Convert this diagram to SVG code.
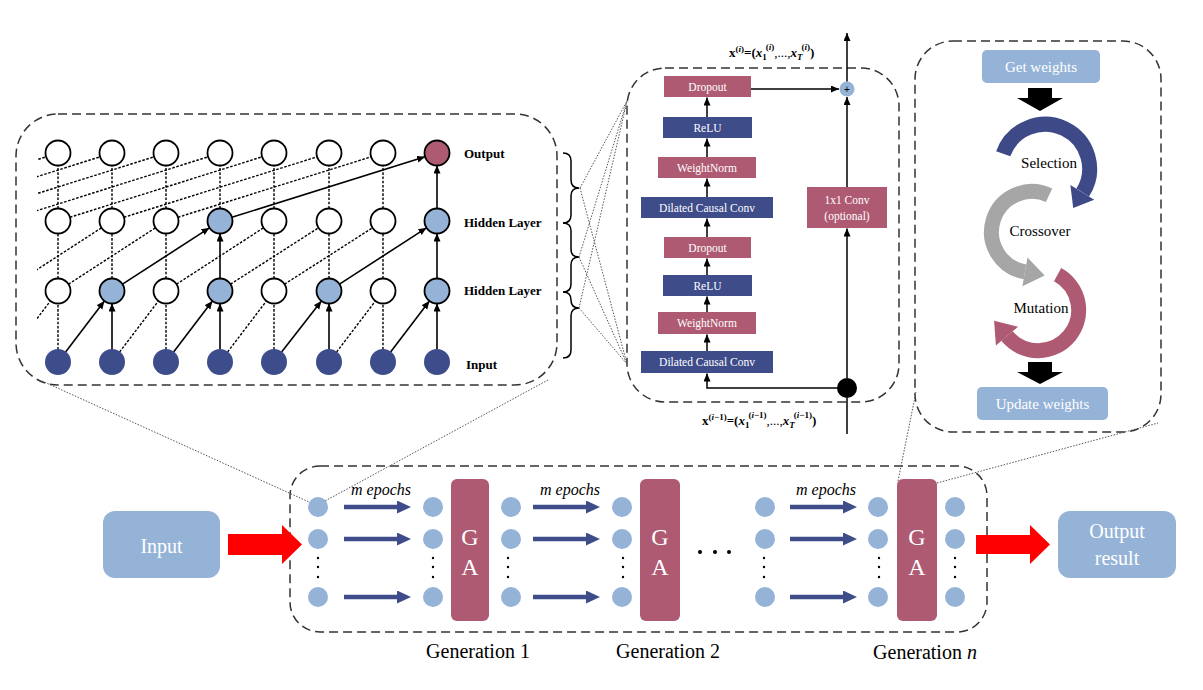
<svg xmlns="http://www.w3.org/2000/svg" width="1203" height="690" viewBox="0 0 1203 690">
<style>
.dt{stroke:#000;stroke-width:1.4;stroke-dasharray:2.6 1.6;fill:none}
.sl{stroke:#000;stroke-width:1.6;fill:none;marker-end:url(#ah)}
.fine{stroke:#555;stroke-width:1;stroke-dasharray:1.5 1.5;fill:none}
.frame{fill:none;stroke:#333;stroke-width:1.5;stroke-dasharray:9 5}
.wn{fill:#fff;stroke:#000;stroke-width:1.8}
.lb{fill:#95b3d7;stroke:#000;stroke-width:1.8}
.inn{fill:#3d4c8a}
.on{fill:#ae5a72;stroke:#000;stroke-width:1.8}
.pk{fill:#ae5a72}
.bl{fill:#3e4c8a}
.lbox{fill:#95b3d7}
.dotc{fill:#95b3d7}
.nl{font-family:"Liberation Serif",serif;font-weight:bold;font-size:13px;fill:#000}
.bt{font-family:"Liberation Serif",serif;font-size:11.5px;fill:#fff;text-anchor:middle}
.wt{font-family:"Liberation Serif",serif;fill:#fff;text-anchor:middle}
.kt{font-family:"Liberation Serif",serif;fill:#000;text-anchor:middle}
.fx{font-family:"Liberation Serif",serif;font-size:13px;font-weight:bold;fill:#000}
.ep{font-family:"Liberation Serif",serif;font-style:italic;font-size:16px;fill:#000;text-anchor:middle}
.ba{stroke:#3e4c8a;stroke-width:4.5;fill:none;marker-end:url(#bah)}
.tl{stroke:#000;stroke-width:1.5;fill:none;marker-end:url(#ah)}
</style>
<defs>
<marker id="ah" markerUnits="userSpaceOnUse" markerWidth="9" markerHeight="8" refX="8" refY="3.5" orient="auto"><path d="M0,0 L8,3.5 L0,7 z" fill="#000"/></marker>
<marker id="bah" markerUnits="userSpaceOnUse" markerWidth="16" markerHeight="14" refX="1" refY="6.5" orient="auto"><path d="M0,0 L14,6.5 L0,13 z" fill="#3e4c8a"/></marker>
<clipPath id="nclip"><rect x="37" y="110" width="520" height="280"/></clipPath>
</defs>

<!-- TCN network panel -->
<g id="network">
<rect class="frame" x="16" y="114" width="541" height="271" rx="42"/>
<g clip-path="url(#nclip)">
<path class="dt" d="M58,349.5V303.5 M166,349.5V303.5 M274,349.5V303.5 M383,349.5V303.5"/>
<path class="sl" d="M112,349.5V303.5"/><path class="sl" d="M220,349.5V303.5"/><path class="sl" d="M329,349.5V303.5"/><path class="sl" d="M437,349.5V303.5"/>
<path class="dt" d="M4,362L50.4,301 M119.6,352L158.4,301 M227.6,352L266.4,301 M336.6,352L375.4,301"/>
<path class="sl" d="M65.6,352L104.4,301"/><path class="sl" d="M173.6,352L212.4,301"/><path class="sl" d="M281.6,352L321.4,301"/><path class="sl" d="M390.6,352L429.4,301"/>
<path class="dt" d="M58,278.5V233.5 M112,278.5V233.5 M166,278.5V233.5 M274,278.5V233.5 M329,278.5V233.5 M383,278.5V233.5"/>
<path class="sl" d="M220,278.5V233.5"/><path class="sl" d="M437,278.5V233.5"/>
<path class="dt" d="M4,291L101.5,227.8 M68.5,284.2L155.5,227.8 M176.5,284.2L263.5,227.8 M230.5,284.2L318.5,227.8 M284.5,284.2L372.5,227.8"/>
<path class="sl" d="M122.5,284.2L209.5,227.8"/><path class="sl" d="M339.5,284.2L426.5,227.8"/>
<path class="dt" d="M58,208.5V165.5 M112,208.5V165.5 M166,208.5V165.5 M220,208.5V165.5 M274,208.5V165.5 M329,208.5V165.5 M383,208.5V165.5"/>
<path class="sl" d="M437,208.5V165.5"/>
<path class="dt" d="M-158,221L46.1,156.8 M-104,221L100.1,156.8 M-50,221L154.1,156.8 M4,221L208.1,156.8 M69.9,217.3L262.1,156.8 M123.9,217.3L317.1,156.8 M177.9,217.3L371.1,156.8"/>
<path class="sl" d="M231.9,217.3L425.1,156.8"/>
</g>
<g>
<circle class="wn" cx="58" cy="153" r="12.5"/><circle class="wn" cx="112" cy="153" r="12.5"/><circle class="wn" cx="166" cy="153" r="12.5"/><circle class="wn" cx="220" cy="153" r="12.5"/><circle class="wn" cx="274" cy="153" r="12.5"/><circle class="wn" cx="329" cy="153" r="12.5"/><circle class="wn" cx="383" cy="153" r="12.5"/><circle class="on" cx="437" cy="153" r="12.5"/>
<circle class="wn" cx="58" cy="221" r="12.5"/><circle class="wn" cx="112" cy="221" r="12.5"/><circle class="wn" cx="166" cy="221" r="12.5"/><circle class="lb" cx="220" cy="221" r="12.5"/><circle class="wn" cx="274" cy="221" r="12.5"/><circle class="wn" cx="329" cy="221" r="12.5"/><circle class="wn" cx="383" cy="221" r="12.5"/><circle class="lb" cx="437" cy="221" r="12.5"/>
<circle class="wn" cx="58" cy="291" r="12.5"/><circle class="lb" cx="112" cy="291" r="12.5"/><circle class="wn" cx="166" cy="291" r="12.5"/><circle class="lb" cx="220" cy="291" r="12.5"/><circle class="wn" cx="274" cy="291" r="12.5"/><circle class="lb" cx="329" cy="291" r="12.5"/><circle class="wn" cx="383" cy="291" r="12.5"/><circle class="lb" cx="437" cy="291" r="12.5"/>
<circle class="inn" cx="58" cy="362" r="13"/><circle class="inn" cx="112" cy="362" r="13"/><circle class="inn" cx="166" cy="362" r="13"/><circle class="inn" cx="220" cy="362" r="13"/><circle class="inn" cx="274" cy="362" r="13"/><circle class="inn" cx="329" cy="362" r="13"/><circle class="inn" cx="383" cy="362" r="13"/><circle class="inn" cx="437" cy="362" r="13"/>
</g>
<text class="nl" x="464" y="158">Output</text>
<text class="nl" x="464" y="227">Hidden Layer</text>
<text class="nl" x="464" y="295">Hidden Layer</text>
<text class="nl" x="466" y="369">Input</text>
</g>

<!-- braces -->
<g id="braces" fill="none" stroke="#000" stroke-width="1.5">
<path d="M563,153 Q571,153 571,161 L571,180 Q571,188 579,188 Q571,188 571,196 L571,215 Q571,223 563,223"/>
<path d="M563,223 Q571,223 571,231 L571,249 Q571,257 579,257 Q571,257 571,265 L571,284 Q571,292 563,292"/>
<path d="M563,292 Q571,292 571,300 L571,300 Q571,308 579,308 Q571,308 571,316 L571,350 Q571,358 563,358"/>
</g>

<!-- TCN residual block -->
<g id="tcn-block">
<rect class="frame" x="627" y="68" width="272" height="334" rx="38"/>
<g id="dropout1"><rect class="pk" x="664" y="76" width="87" height="21"/><text class="bt" x="707.5" y="90.5">Dropout</text></g>
<g id="relu1"><rect class="bl" x="663" y="117" width="89" height="21"/><text class="bt" x="707.5" y="131.5">ReLU</text></g>
<g id="wn1"><rect class="pk" x="658" y="157" width="98" height="21"/><text class="bt" x="707" y="171.5">WeightNorm</text></g>
<g id="dcc1"><rect class="bl" x="641" y="197" width="132" height="21"/><text class="bt" x="707" y="211.5">Dilated Causal Conv</text></g>
<g id="dropout2"><rect class="pk" x="664" y="237" width="87" height="21"/><text class="bt" x="707.5" y="251.5">Dropout</text></g>
<g id="relu2"><rect class="bl" x="663" y="275" width="89" height="21"/><text class="bt" x="707.5" y="289.5">ReLU</text></g>
<g id="wn2"><rect class="pk" x="658" y="312" width="98" height="22"/><text class="bt" x="707" y="327">WeightNorm</text></g>
<g id="dcc2"><rect class="bl" x="641" y="351" width="132" height="22"/><text class="bt" x="707" y="366">Dilated Causal Conv</text></g>
<g id="conv1x1"><rect class="pk" x="807" y="187" width="80" height="41"/><text class="bt" x="847" y="204">1x1 Conv</text><text class="bt" x="847" y="220">(optional)</text></g>
<g id="plus"><circle cx="847" cy="89" r="7.5" fill="#95b3d7"/><text x="847" y="92.5" font-family="Liberation Sans,sans-serif" font-size="10" text-anchor="middle" fill="#000">+</text></g>
<g id="split"><circle cx="847" cy="388" r="10" fill="#000"/></g>
<text class="fx" x="729" y="57">x<tspan font-size="9" dy="-5">(<tspan font-style="italic">i</tspan>)</tspan><tspan dy="5">=(</tspan><tspan font-style="italic">x</tspan><tspan font-size="9" dy="3">1</tspan><tspan font-size="9" dx="-1" dy="-10">(<tspan font-style="italic">i</tspan>)</tspan><tspan dy="7" font-weight="normal">,...,</tspan><tspan font-style="italic">x</tspan><tspan font-size="9" dy="3" font-style="italic">T</tspan><tspan font-size="9" dx="-1" dy="-10">(<tspan font-style="italic">i</tspan>)</tspan><tspan dy="7">)</tspan></text>
<text class="fx" x="702" y="425">x<tspan font-size="9" dy="-5">(<tspan font-style="italic">i</tspan>−1)</tspan><tspan dy="5">=(</tspan><tspan font-style="italic">x</tspan><tspan font-size="9" dy="3">1</tspan><tspan font-size="9" dx="-1" dy="-10">(<tspan font-style="italic">i</tspan>−1)</tspan><tspan dy="7" font-weight="normal">,...,</tspan><tspan font-style="italic">x</tspan><tspan font-size="9" dy="3" font-style="italic">T</tspan><tspan font-size="9" dx="-1" dy="-10">(<tspan font-style="italic">i</tspan>−1)</tspan><tspan dy="7">)</tspan></text>
</g>

<!-- GA panel -->
<g id="ga-panel">
<rect class="frame" x="915" y="41" width="246" height="391" rx="38"/>
<g id="get-weights"><rect class="lbox" x="982" y="50" width="118" height="33" rx="5"/><text class="wt" x="1041" y="72" font-size="15">Get weights</text></g>
<polygon points="1028,88 1052,88 1052,98 1063,98 1040,111 1017,98 1028,98" fill="#000"/>
<g id="selection">
<path d="M1003.2,153.8 A44.5,44.5 0 1 1 1082.7,192.6" fill="none" stroke="#3e4a87" stroke-width="15"/>
<polygon points="1070.4,184.9 1094.2,199.7 1073.2,207.9" fill="#3e4a87"/>
<text class="kt" x="1049" y="168" font-size="15">Selection</text>
</g>
<g id="crossover">
<path d="M1049.1,195.3 A40.5,40.5 0 1 0 1025,271.9" fill="none" stroke="#a6a6a6" stroke-width="15"/>
<polygon points="1027.5,257.6 1022.4,286.2 1044.7,275.4" fill="#a6a6a6"/>
<text class="kt" x="1040" y="236" font-size="15">Crossover</text>
</g>
<g id="mutation">
<path d="M1057.6,274.6 A40.5,40.5 0 1 1 1007,336" fill="none" stroke="#ae5a72" stroke-width="15"/>
<polygon points="1018.1,326.7 995.9,345.4 994.1,320.7" fill="#ae5a72"/>
<text class="kt" x="1041" y="313" font-size="15">Mutation</text>
</g>
<polygon points="1028,362 1052,362 1052,372 1063,372 1040,384 1017,372 1028,372" fill="#000"/>
<g id="update-weights"><rect class="lbox" x="977" y="387" width="131" height="33" rx="5"/><text class="wt" x="1042.5" y="409" font-size="15">Update weights</text></g>
</g>

<!-- bottom pipeline -->
<g id="input"><rect class="lbox" x="103" y="511" width="117" height="67" rx="12"/><text class="wt" x="161.5" y="553" font-size="20">Input</text></g>
<g id="output"><rect class="lbox" x="1058" y="511" width="118" height="67" rx="12"/><text class="wt" x="1117" y="538" font-size="20">Output</text><text class="wt" x="1117" y="565" font-size="20">result</text></g>
<g id="generations">
<rect class="frame" x="290" y="466" width="697" height="166" rx="30"/>
<g id="ga1"><rect class="pk" x="451" y="479" width="38" height="142" rx="6"/><text class="wt" x="470" y="545" font-size="24">G</text><text class="wt" x="470" y="575" font-size="24">A</text></g>
<g id="ga2"><rect class="pk" x="640" y="479" width="40" height="142" rx="6"/><text class="wt" x="660" y="545" font-size="24">G</text><text class="wt" x="660" y="575" font-size="24">A</text></g>
<g id="ga3"><rect class="pk" x="897" y="479" width="40" height="142" rx="6"/><text class="wt" x="917" y="545" font-size="24">G</text><text class="wt" x="917" y="575" font-size="24">A</text></g>
<g class="dotc">
<circle cx="318" cy="507" r="10"/><circle cx="318" cy="539" r="10"/><circle cx="318" cy="597" r="10"/>
<circle cx="433" cy="507" r="10"/><circle cx="433" cy="539" r="10"/><circle cx="433" cy="597" r="10"/>
<circle cx="511" cy="507" r="10"/><circle cx="511" cy="539" r="10"/><circle cx="511" cy="597" r="10"/>
<circle cx="622" cy="507" r="10"/><circle cx="622" cy="539" r="10"/><circle cx="622" cy="597" r="10"/>
<circle cx="765" cy="507" r="10"/><circle cx="765" cy="539" r="10"/><circle cx="765" cy="597" r="10"/>
<circle cx="878" cy="507" r="10"/><circle cx="878" cy="539" r="10"/><circle cx="878" cy="597" r="10"/>
<circle cx="955" cy="507" r="10"/><circle cx="955" cy="539" r="10"/><circle cx="955" cy="597" r="10"/>
</g>
<g fill="#000">
<circle cx="318" cy="558" r="1.2"/><circle cx="318" cy="567" r="1.2"/><circle cx="318" cy="577" r="1.2"/>
<circle cx="433" cy="558" r="1.2"/><circle cx="433" cy="567" r="1.2"/><circle cx="433" cy="577" r="1.2"/>
<circle cx="508" cy="558" r="1.2"/><circle cx="508" cy="567" r="1.2"/><circle cx="508" cy="577" r="1.2"/>
<circle cx="623" cy="558" r="1.2"/><circle cx="623" cy="567" r="1.2"/><circle cx="623" cy="577" r="1.2"/>
<circle cx="764" cy="558" r="1.2"/><circle cx="764" cy="567" r="1.2"/><circle cx="764" cy="577" r="1.2"/>
<circle cx="879" cy="558" r="1.2"/><circle cx="879" cy="567" r="1.2"/><circle cx="879" cy="577" r="1.2"/>
<circle cx="955" cy="558" r="1.2"/><circle cx="955" cy="567" r="1.2"/><circle cx="955" cy="577" r="1.2"/>
<circle cx="700" cy="552" r="2"/><circle cx="715" cy="552" r="2"/><circle cx="729" cy="552" r="2"/>
</g>
<text class="ep" x="381" y="495">m epochs</text>
<text class="ep" x="570" y="495">m epochs</text>
<text class="ep" x="826" y="495">m epochs</text>
<text class="kt" x="478" y="658" font-size="20">Generation 1</text>
<text class="kt" x="668" y="658" font-size="20">Generation 2</text>
<text class="kt" x="925" y="659" font-size="20">Generation <tspan font-style="italic">n</tspan></text>
</g>

<!-- connectors -->
<g id="connectors">
<path class="tl" d="M707,351V334.5"/><path class="tl" d="M707,312V296.5"/><path class="tl" d="M707,275V258.5"/><path class="tl" d="M707,237V218.5"/>
<path class="tl" d="M707,197V178.5"/><path class="tl" d="M707,157V138.5"/><path class="tl" d="M707,117V97.5"/>
<path class="tl" d="M838,388H707V373.5"/>
<path d="M847,434V398" stroke="#000" stroke-width="1.5"/>
<path class="tl" d="M847,378V228.5"/>
<path class="tl" d="M847,187V97"/>
<path class="tl" d="M847,81.5V33"/>
<path class="tl" d="M751,89H839"/>
<path class="fine" d="M580,188L627,101 M580,188L627,364 M579,257L627,101 M579,257L627,364 M579,308L627,101 M579,308L627,364"/>
<path class="fine" d="M42,381L309,502 M548,380L325,501"/>
<path class="fine" d="M898,481L916,392 M937,483L1158,423"/>
<polygon points="228,534 282,534 282,525 302,544.5 282,564 282,555 228,555" fill="#ff0000"/>
<polygon points="976,535 1030,535 1030,525 1050,544.5 1030,564 1030,554 976,554" fill="#ff0000"/>
<path class="ba" d="M344,507H398"/><path class="ba" d="M344,539H398"/><path class="ba" d="M344,597H398"/>
<path class="ba" d="M533,507H587"/><path class="ba" d="M533,539H587"/><path class="ba" d="M533,597H587"/>
<path class="ba" d="M790,507H844"/><path class="ba" d="M790,539H844"/><path class="ba" d="M790,597H844"/>
</g>
</svg>
